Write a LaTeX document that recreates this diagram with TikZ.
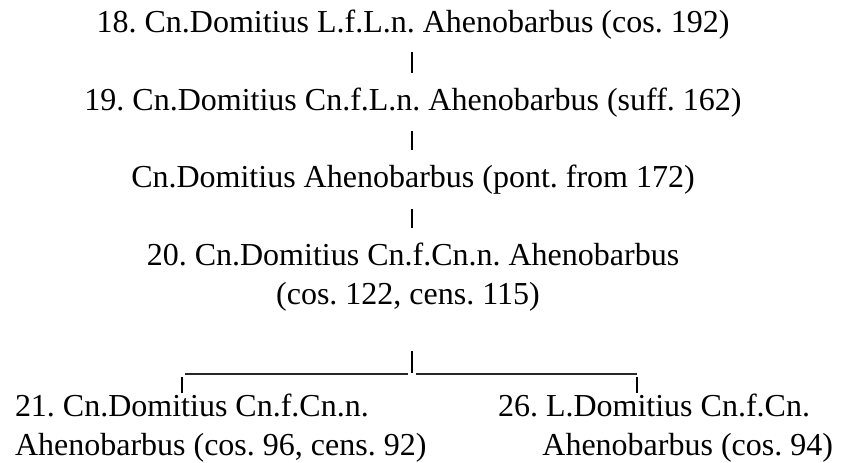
\documentclass[tikz,border=0pt]{standalone}
\usepackage{fontspec}
\setmainfont{Liberation Serif}
\usetikzlibrary{calc}
\frenchspacing
\tikzset{
  person/.style={inner sep=0pt, outer sep=0pt, anchor=base,
    font=\fontsize{32pt}{39pt}\selectfont},
  personw/.style={person, anchor=base west},
  persone/.style={person, anchor=base east},
  bar/.style={line width=2pt, black},
  rail/.style={line width=1.4pt, black!85}
}
\begin{document}
\begin{tikzpicture}[x=1pt,y=1pt]
\useasboundingbox (0,0) rectangle (846,-463);
\coordinate (axis) at (412,0);
% generations, top to bottom
\node[person] (n18)  at (413,-32)  {18. Cn.Domitius L.f.L.n. Ahenobarbus (cos. 192)};
\node[person] (n19)  at (413,-110) {19. Cn.Domitius Cn.f.L.n. Ahenobarbus (suff. 162)};
\node[person] (npon) at (413,-187) {Cn.Domitius Ahenobarbus (pont. from 172)};
\node[person] (n20)  at (413,-265) {20. Cn.Domitius Cn.f.Cn.n. Ahenobarbus};
\node[person] (n20b) at (408,-304) {(cos. 122, cens. 115)};
% the two sons
\node[personw] (n21)  at (15,-416)  {21. Cn.Domitius Cn.f.Cn.n.};
\node[personw] (n21b) at (15,-455)  {Ahenobarbus (cos. 96, cens. 92)};
\node[personw] (n26)  at (498,-416) {26. L.Domitius Cn.f.Cn.};
\node[persone] (n26b) at (833,-455) {Ahenobarbus (cos. 94)};
% descent lines
\draw[bar] (n18.base -| axis) ++(0,-20) -- ++(0,-21);
\draw[bar] (n19.base -| axis) ++(0,-21) -- ++(0,-19);
\draw[bar] (npon.base -| axis) ++(0,-22) -- ++(0,-19);
\draw[bar] (n20b.base -| axis) ++(0,-47) -- ++(0,-22);
% branching rail and drops to the sons
\coordinate (railL) at ($(n21.base west)+(170,42)$);
\coordinate (railR) at ($(n26.base west)+(139,42)$);
\draw[rail] (railL) -- ($(n20b.base -| axis)+(-4,-70)$);
\draw[rail] ($(n20b.base -| axis)+(4,-70)$) -- (railR);
\draw[bar] ($(railL)+(-3,-3)$) -- ++(0,-16);
\draw[bar] ($(railR)+(0,-3)$) -- ++(0,-16);
\end{tikzpicture}
\end{document}
